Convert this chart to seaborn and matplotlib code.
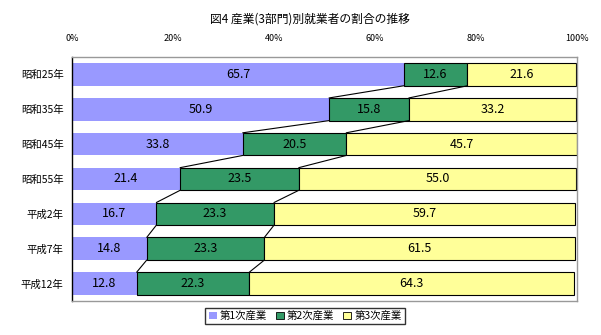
import numpy as np
import matplotlib
matplotlib.use("Agg")
import matplotlib.pyplot as plt
import seaborn as sns
from matplotlib.patches import Patch

years = ["昭和25年", "昭和35年", "昭和45年", "昭和55年", "平成2年", "平成7年", "平成12年"]
primary = [65.7, 50.9, 33.8, 21.4, 16.7, 14.8, 12.8]
secondary = [12.6, 15.8, 20.5, 23.5, 23.3, 23.3, 22.3]
tertiary = [21.6, 33.2, 45.7, 55.0, 59.7, 61.5, 64.3]
series_names = ["第1次産業", "第2次産業", "第3次産業"]
tick_labels = ["0%", "20%", "40%", "60%", "80%", "100%"]

sns.set_style("white")
plt.rcParams["font.family"] = ["Noto Sans CJK JP", "DejaVu Sans"]
plt.rcParams["text.color"] = "black"
plt.rcParams["xtick.color"] = "black"
plt.rcParams["ytick.color"] = "black"

colors = ["#9999ff", "#339966", "#ffff99"]
edges = ["none", "black", "black"]

fig = plt.figure(figsize=(6.01, 3.35), dpi=100)
ax = fig.add_axes([72 / 601, 1 - 301 / 335, (577 - 72) / 601, (301 - 57) / 335])

y = np.arange(len(years))
h = 0.65
left = np.zeros(len(years))
bounds = []
for vals, c, ec in zip([primary, secondary, tertiary], colors, edges):
    vals = np.array(vals)
    ax.barh(y, vals, left=left, height=h, color=c, edgecolor=ec, linewidth=0.8, zorder=2)
    for yi, l, v in zip(y, left, vals):
        ax.text(l + v / 2, yi, f"{v:.1f}", ha="center", va="center", fontsize=9, zorder=4)
    left = left + vals
    bounds.append(left.copy())

# series lines between consecutive bars
for b in bounds[:2]:
    for i in range(len(years) - 1):
        ax.plot([b[i], b[i + 1]], [y[i] + h / 2, y[i + 1] - h / 2],
                color="black", linewidth=0.8, zorder=3)

ax.set_xlim(0, 100)
ax.set_ylim(len(years) - 0.5, -0.5)
ax.set_xticks(np.arange(0, 101, 20))
ax.set_xticklabels(tick_labels, fontsize=6.5)
ax.xaxis.tick_top()
ax.tick_params(axis="x", length=0, pad=10)
ax.set_yticks(y)
ax.set_yticklabels(years, fontsize=7.5)
ax.tick_params(axis="y", length=0, pad=6)

for s in ["top", "right", "bottom"]:
    ax.spines[s].set_color("#999999")
    ax.spines[s].set_linewidth(1)
ax.spines["left"].set_color("black")
ax.spines["left"].set_linewidth(1)

fig.text(310 / 601, 1 - 19 / 335, "図4 産業(3部門)別就業者の割合の推移", ha="center", va="center", fontsize=8.5)

handles = [Patch(facecolor=c, edgecolor=("none" if ec == "none" else "black"), linewidth=0.6)
           for c, ec in zip(colors, edges)]
leg = fig.legend(handles, series_names, loc="center", bbox_to_anchor=(305 / 601, 1 - 316 / 335),
                 ncol=3, fontsize=7.5, frameon=True, fancybox=False, handlelength=0.8, handleheight=0.8,
                 handletextpad=0.3, columnspacing=0.8, borderpad=0.3, edgecolor="black")
leg.get_frame().set_linewidth(1)

fig.savefig("out.png", dpi=100)
